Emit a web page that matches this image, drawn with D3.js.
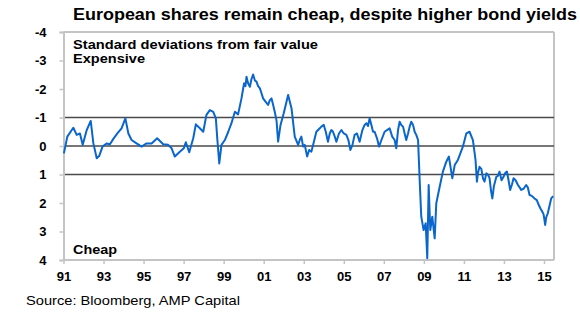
<!DOCTYPE html>
<html>
<head>
<meta charset="utf-8">
<script src="https://cdn.jsdelivr.net/npm/d3@7"></script>
<style>
  html, body { margin: 0; padding: 0; background: #fff; }
  svg { display: block; font-family: Arial, "Liberation Sans", sans-serif; }
</style>
</head>
<body>
<svg id="chart" width="580" height="318"></svg>
<script>
// ---- data ----
const dates = [
  1991.02,1991.19,1991.49,1991.66,1991.82,1991.96,1992.16,1992.36,1992.49,1992.66,
  1992.79,1992.95,1993.15,1993.32,1993.49,1993.69,1993.90,1994.09,1994.24,1994.40,
  1994.65,1994.90,1995.15,1995.40,1995.68,1995.98,1996.23,1996.40,1996.56,1996.81,
  1997.01,1997.11,1997.28,1997.48,1997.61,1997.81,1997.98,1998.14,1998.31,1998.48,
  1998.61,1998.68,1998.78,1998.89,1999.06,1999.23,1999.39,1999.56,1999.72,1999.89,
  1999.97,2000.02,2000.09,2000.14,2000.22,2000.31,2000.39,2000.47,2000.56,2000.64,
  2000.72,2000.81,2000.89,2000.97,2001.10,2001.22,2001.30,2001.39,2001.47,2001.55,
  2001.64,2001.72,2001.84,2002.00,2002.22,2002.39,2002.55,2002.72,
  2002.80,2002.88,2002.97,2003.05,2003.17,2003.27,2003.38,2003.47,2003.63,2003.80,
  2003.88,2004.00,2004.10,2004.21,2004.30,2004.38,2004.46,2004.55,2004.63,2004.76,
  2004.88,2005.00,2005.13,2005.23,2005.33,2005.43,2005.54,2005.66,2005.79,2005.93,
  2006.04,2006.13,2006.21,2006.29,2006.38,2006.46,2006.54,2006.66,2006.76,2006.88,
  2007.04,2007.16,2007.29,2007.42,2007.54,2007.62,2007.71,2007.79,2007.87,2007.96,
  2008.04,2008.12,2008.21,2008.29,2008.37,2008.46,2008.54,2008.62,2008.71,
  2008.79,2008.87,2008.99,2009.09,2009.17,2009.24,2009.32,2009.42,2009.54,2009.62,
  2009.79,2009.95,2010.12,2010.25,2010.42,2010.54,2010.70,2010.95,2011.12,2011.28,
  2011.45,2011.58,2011.65,2011.70,2011.78,2011.87,2011.95,2012.03,2012.12,2012.20,
  2012.28,2012.36,2012.42,2012.50,2012.62,2012.70,2012.78,2012.88,2012.98,2013.06,
  2013.15,2013.23,2013.31,2013.40,2013.48,2013.58,2013.70,2013.78,2013.86,2013.98,
  2014.11,2014.19,2014.28,2014.39,2014.53,2014.64,2014.74,2014.83,2014.91,2014.98,
  2015.06,2015.11,2015.19,2015.36,2015.46
];
const deviations = [
  0.26,-0.33,-0.64,-0.39,-0.44,-0.04,-0.56,-0.88,-0.10,0.43,
  0.34,0.02,-0.09,-0.06,-0.25,-0.44,-0.62,-0.97,-0.44,-0.21,
  -0.09,0.02,-0.09,-0.09,-0.27,-0.06,-0.04,0.08,0.37,0.20,
  0.08,-0.13,0.22,-0.27,-0.76,-0.62,-0.50,-1.09,-1.26,-1.20,
  -0.97,-0.27,0.61,-0.04,-0.21,-0.50,-0.80,-1.20,-1.11,-1.67,
  -2.00,-2.20,-2.10,-2.43,-2.20,-2.08,-2.35,-2.51,-2.30,-2.26,
  -2.10,-2.02,-1.85,-1.67,-1.55,-1.44,-1.60,-1.67,-1.45,-1.20,
  -0.90,-0.15,-0.74,-1.15,-1.79,-1.32,-0.33,-0.04,
  -0.21,-0.33,0.02,-0.04,0.37,0.14,0.20,-0.04,-0.50,-0.62,
  -0.68,-0.74,-0.50,-0.15,-0.44,-0.56,-0.50,-0.33,-0.15,-0.44,
  -0.56,-0.44,-0.39,-0.21,0.14,-0.03,-0.39,-0.44,-0.15,-0.56,
  -0.74,-0.80,-0.70,-0.97,-0.74,-0.50,-0.50,-0.27,0.02,-0.21,
  -0.50,-0.56,-0.62,-0.33,-0.21,0.08,-0.56,-0.85,-0.74,-0.68,
  -0.44,-0.21,-0.44,-0.68,-0.85,-0.74,-0.50,-0.39,-0.21,
  1.19,2.48,2.95,2.71,3.94,1.37,2.95,2.48,3.24,2.01,
  1.43,0.90,0.55,0.37,1.13,0.67,0.49,0.02,-0.44,-0.50,
  -0.21,0.49,1.25,0.95,0.73,0.80,1.13,1.25,0.96,1.00,
  1.13,1.60,1.84,1.40,1.08,1.05,0.90,1.20,1.08,0.95,
  0.90,1.20,1.54,1.35,1.13,1.20,1.37,1.45,1.54,1.50,
  1.37,1.45,1.72,1.75,1.84,1.90,2.07,2.20,2.30,2.40,
  2.77,2.50,2.36,1.84,1.76
];
const yTicks = [-4,-3,-2,-1,0,1,2,3,4];
const xTicks = [1991,1993,1995,1997,1999,2001,2003,2005,2007,2009,2011,2013,2015];
const refLines = [-1,0,1];
const titleText = "European shares remain cheap, despite higher bond yields";
const unitText = "Standard deviations from fair value";
const topLabel = "Expensive";
const bottomLabel = "Cheap";
const sourceText = "Source: Bloomberg, AMP Capital";

// ---- drawing ----
const svg = d3.select("#chart");
const x = d3.scaleLinear().domain([1991, 2015.5]).range([63.5, 554]);
const y = d3.scaleLinear().domain([-4, 4]).range([32, 260]);
const frameColor = "#c4c4c4";
const FONT = "Arial, 'Liberation Sans', sans-serif";

// frame (top & right)
svg.append("line").attr("x1", x(1991)).attr("x2", x(2015.5)).attr("y1", y(-4)).attr("y2", y(-4))
  .attr("stroke", frameColor).attr("stroke-width", 2);
svg.append("line").attr("x1", x(2015.5)).attr("x2", x(2015.5)).attr("y1", y(-4)).attr("y2", y(4))
  .attr("stroke", frameColor).attr("stroke-width", 2);

// reference lines
svg.selectAll("line.ref").data(refLines).join("line").attr("class", "ref")
  .attr("x1", x(1991)).attr("x2", x(2015.5))
  .attr("y1", d => y(d)).attr("y2", d => y(d))
  .attr("stroke", "#4a4a4a").attr("stroke-width", 1.3);

// left axis
const yAxis = svg.append("g").attr("transform", `translate(${x(1991)},0)`)
  .call(d3.axisLeft(y).tickValues(yTicks).tickSize(4).tickPadding(13).tickFormat(d => String(d)));
yAxis.select(".domain").attr("stroke", frameColor).attr("stroke-width", 2);
yAxis.selectAll(".tick line").attr("stroke", frameColor).attr("stroke-width", 1.5);
yAxis.selectAll(".tick text").attr("font-size", 13).attr("font-weight", "bold").attr("fill", "#000")
  .attr("font-family", FONT);

// bottom axis
const xAxis = svg.append("g").attr("transform", `translate(0,${y(4)})`)
  .call(d3.axisBottom(x).tickValues(xTicks).tickSize(4).tickPadding(8)
    .tickFormat(d => String(d % 100).padStart(2, "0")));
xAxis.select(".domain").attr("stroke", frameColor).attr("stroke-width", 2)
  .attr("d", `M${x(1991)},0H${x(2015.5)}`);
xAxis.selectAll(".tick line").attr("stroke", frameColor).attr("stroke-width", 1.5);
xAxis.selectAll(".tick text").attr("font-size", 13).attr("font-weight", "bold").attr("fill", "#000")
  .attr("font-family", FONT);

// series line
const line = d3.line().x((d, i) => x(dates[i])).y(d => y(d));
svg.append("path").datum(deviations)
  .attr("d", line).attr("fill", "none")
  .attr("stroke", "#0a66cc").attr("stroke-width", 2).attr("stroke-linejoin", "round");

// texts
function label(txt, px, py, size, weight, len) {
  svg.append("text").attr("x", px).attr("y", py)
    .attr("font-size", size).attr("font-weight", weight).attr("fill", "#000")
    .attr("textLength", len).attr("lengthAdjust", "spacingAndGlyphs").text(txt);
}
label(titleText, 73, 20, 16, "bold", 504);
label(unitText, 73, 48.5, 13, "bold", 245);
label(topLabel, 73, 62.5, 13, "bold", 72);
label(bottomLabel, 73, 253.5, 13, "bold", 44);
label(sourceText, 26, 305, 13, "normal", 214);
</script>
</body>
</html>
